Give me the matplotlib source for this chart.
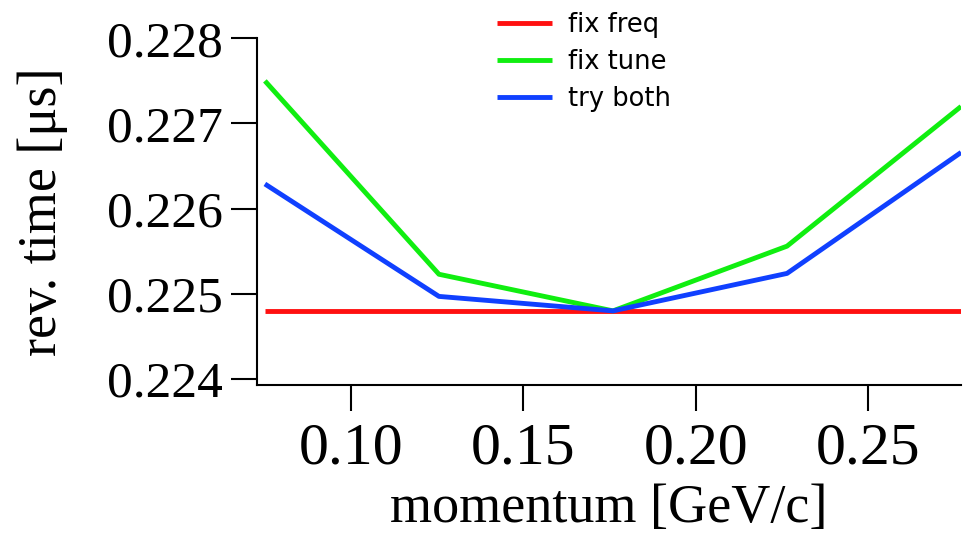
import numpy as np
import matplotlib
matplotlib.use('Agg')
import matplotlib.pyplot as plt

# %% data

momentum = [0.075, 0.1255, 0.176, 0.2265, 0.277]

fix_freq = [0.2248, 0.2248, 0.2248, 0.2248, 0.2248]
fix_tune = [0.2275, 0.22523, 0.2248, 0.22556, 0.2272]
try_both = [0.22629, 0.22497, 0.2248, 0.22524, 0.22666]

x_ticks = [0.10, 0.15, 0.20, 0.25]
y_ticks = [0.224, 0.225, 0.226, 0.227, 0.228]

# %% plot

font = {'family': 'Liberation Serif'}
matplotlib.rc('font', **font)

fig = plt.figure(figsize=(9.63, 5.35), dpi=100)
ax = fig.add_axes([0.2672, 0.2804, 0.7308, 0.648])

ax.plot(momentum, fix_freq, color='#ff1010', lw=3.5, label='fix freq', solid_capstyle='butt')
ax.plot(momentum, fix_tune, color='#10ee10', lw=3.5, label='fix tune', solid_capstyle='butt')
ax.plot(momentum, try_both, color='#1040ff', lw=3.5, label='try both', solid_capstyle='butt')

ax.set_xlim(0.0728, 0.277)
ax.set_ylim(0.22393, 0.228)

ax.spines['top'].set_visible(False)
ax.spines['right'].set_visible(False)
ax.spines['left'].set_linewidth(1.5)
ax.spines['bottom'].set_linewidth(1.5)
ax.spines['left'].set_bounds(0.22393, 0.228)

ax.set_xticks(x_ticks)
ax.set_xticklabels(['%.2f' % v for v in x_ticks])
ax.set_yticks(y_ticks)
ax.set_yticklabels(['%.3f' % v for v in y_ticks])

ax.tick_params(axis='x', direction='out', length=19, width=1.5, pad=8, labelsize=43)
ax.tick_params(axis='y', direction='out', length=19, width=1.5, pad=6, labelsize=37)

ax.set_xlabel('momentum [GeV/c]', fontsize=39)
ax.set_ylabel('rev. time [μs]', fontsize=39)
ax.xaxis.set_label_coords(0.5, -0.285)
ax.yaxis.set_label_coords(-0.269, 0.5)

leg = ax.legend(loc='upper left', bbox_to_anchor=(497 / 963, 1 - 12 / 535),
                bbox_transform=fig.transFigure, frameon=False,
                prop={'family': 'DejaVu Sans', 'size': 18.5},
                handlelength=2.15, handletextpad=0.6, labelspacing=0.42,
                borderpad=0, borderaxespad=0)

plt.savefig('out.png', dpi=100)
plt.close()
